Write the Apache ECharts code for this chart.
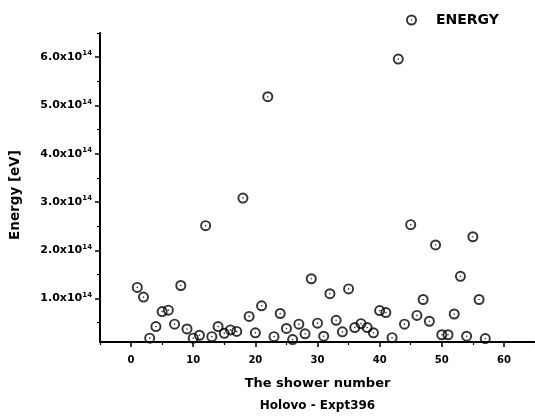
<!DOCTYPE html>
<html>
<head>
<meta charset="UTF-8">
<title>energy</title>
<script src="https://cdn.jsdelivr.net/npm/echarts@6/dist/echarts.min.js"></script>
<style>
  html, body { margin: 0; padding: 0; background: #fff; }
  #chart { width: 535px; height: 420px; }
</style>
</head>
<body>
<div id="chart"></div>
<script>
// shower number -> energy [eV]
var showers = [1, 2, 3, 4, 5, 6, 7, 8, 9, 10, 11, 12, 13, 14, 15, 16, 17, 18, 19, 20,
  21, 22, 23, 24, 25, 26, 27, 28, 29, 30, 31, 32, 33, 34, 35, 36, 37, 38, 39, 40,
  41, 42, 43, 44, 45, 46, 47, 48, 49, 50, 51, 52, 53, 54, 55, 56, 57];
var energy = [1.23e14, 1.03e14, 0.18e14, 0.42e14, 0.73e14, 0.76e14, 0.47e14, 1.27e14, 0.37e14, 0.18e14,
  0.24e14, 2.51e14, 0.21e14, 0.42e14, 0.28e14, 0.35e14, 0.32e14, 3.08e14, 0.63e14, 0.29e14,
  0.85e14, 5.18e14, 0.21e14, 0.69e14, 0.38e14, 0.15e14, 0.47e14, 0.27e14, 1.41e14, 0.49e14,
  0.22e14, 1.10e14, 0.55e14, 0.31e14, 1.20e14, 0.40e14, 0.48e14, 0.40e14, 0.29e14, 0.75e14,
  0.71e14, 0.19e14, 5.96e14, 0.47e14, 2.53e14, 0.65e14, 0.98e14, 0.53e14, 2.11e14, 0.25e14,
  0.25e14, 0.68e14, 1.46e14, 0.22e14, 2.28e14, 0.98e14, 0.17e14];

var xTicks = [0, 10, 20, 30, 40, 50, 60];
var xMinorTicks = [-5, 5, 15, 25, 35, 45, 55, 65];
var yTicks = [1e14, 2e14, 3e14, 4e14, 5e14, 6e14];
var yMinorTicks = [0.5e14, 1.5e14, 2.5e14, 3.5e14, 4.5e14, 5.5e14, 6.5e14];

var FONT = 'DejaVu Sans';
// open circle with a dot in the middle
var ringDot = 'path://M0,-10A10,10 0 1,1 0,10A10,10 0 1,1 0,-10Z' +
  'M0,-6.5A6.5,6.5 0 1,0 0,6.5A6.5,6.5 0 1,0 0,-6.5Z' +
  'M0,-1.5A1.5,1.5 0 1,1 0,1.5A1.5,1.5 0 1,1 0,-1.5Z';

var points = [];
for (var i = 0; i < showers.length; i++) {
  points.push([showers[i], energy[i]]);
}

var chart = echarts.init(document.getElementById('chart'));
var option = {
  backgroundColor: '#fff',
  animation: false,
  legend: {
    left: 401,
    top: 8,
    itemWidth: 11,
    itemHeight: 11,
    textStyle: { fontFamily: FONT, fontWeight: 'bold', fontSize: 14, color: '#000', padding: [0, 0, 0, 14] },
    data: ['ENERGY']
  },
  grid: { left: 96, top: 33, width: 441, height: 309 },
  xAxis: [{
    type: 'value',
    min: -5,
    max: 65,
    position: 'bottom',
    splitLine: { show: false },
    axisLine: { onZero: false, lineStyle: { color: '#000', width: 2 } },
    axisTick: { inside: false, length: 5, lineStyle: { color: '#000', width: 1.5 }, customValues: xTicks },
    axisLabel: {
      customValues: xTicks,
      margin: 13,
      fontFamily: FONT, fontWeight: 'bold', fontSize: 10, color: '#000'
    },
    name: '{a|The shower number}\n{b|Holovo - Expt396}',
    nameLocation: 'middle',
    nameGap: 31,
    nameTextStyle: {
      rich: {
        a: { fontFamily: FONT, fontWeight: 'bold', fontSize: 13, color: '#000', lineHeight: 22 },
        b: { fontFamily: FONT, fontWeight: 'bold', fontSize: 12, color: '#000', lineHeight: 22 }
      }
    }
  }, {
    type: 'value',
    min: -5,
    max: 65,
    position: 'bottom',
    splitLine: { show: false },
    axisLine: { show: false, onZero: false },
    axisLabel: { show: false },
    axisTick: { length: 3, lineStyle: { color: '#000', width: 1.2 }, customValues: xMinorTicks }
  }],
  yAxis: [{
    type: 'value',
    min: 0.1e14,
    max: 6.5e14,
    position: 'left',
    splitLine: { show: false },
    axisLine: { onZero: false, lineStyle: { color: '#000', width: 2 } },
    axisTick: { length: 5, lineStyle: { color: '#000', width: 1.5 }, customValues: yTicks },
    axisLabel: {
      customValues: yTicks,
      margin: 8,
      formatter: function (v) {
        return '{a|' + (v / 1e14).toFixed(1) + 'x10}{b|14}';
      },
      rich: {
        a: { fontFamily: FONT, fontWeight: 'bold', fontSize: 11, color: '#000', lineHeight: 14 },
        b: { fontFamily: FONT, fontWeight: 'bold', fontSize: 7, color: '#000', lineHeight: 6, verticalAlign: 'top' }
      }
    },
    name: 'Energy [eV]',
    nameLocation: 'middle',
    nameGap: 78,
    nameTextStyle: { fontFamily: FONT, fontWeight: 'bold', fontSize: 13.5, color: '#000', padding: [0, 15, 0, 0] }
  }, {
    type: 'value',
    min: 0.1e14,
    max: 6.5e14,
    position: 'left',
    splitLine: { show: false },
    axisLine: { show: false, onZero: false },
    axisLabel: { show: false },
    axisTick: { length: 3, lineStyle: { color: '#000', width: 1.2 }, customValues: yMinorTicks }
  }],
  series: [{
    name: 'ENERGY',
    type: 'scatter',
    xAxisIndex: 0,
    yAxisIndex: 0,
    symbol: ringDot,
    symbolSize: 11,
    itemStyle: { color: '#000' },
    emphasis: { disabled: true },
    data: points
  }]
};
chart.setOption(option);
</script>
</body>
</html>
